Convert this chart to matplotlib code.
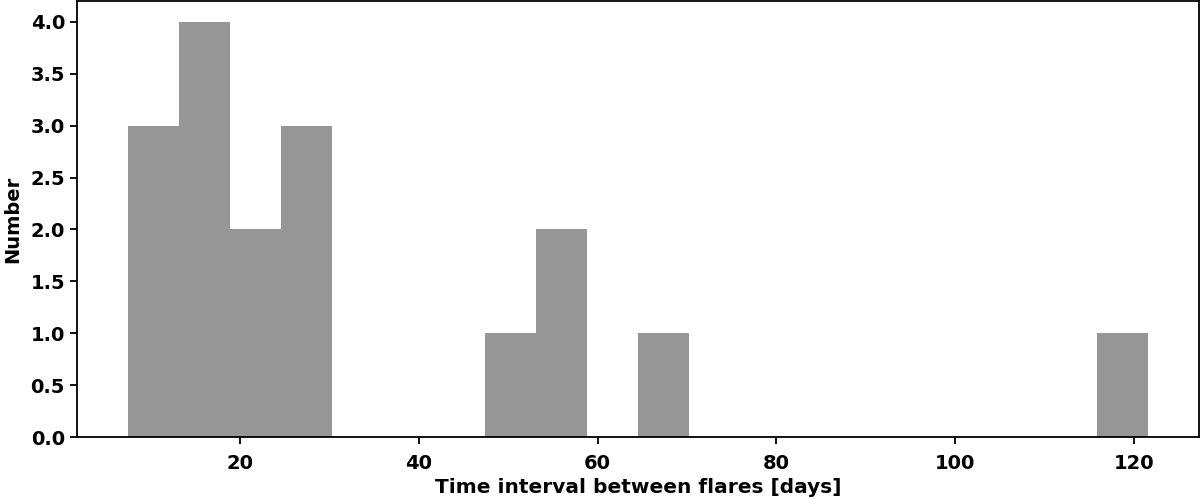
import matplotlib
matplotlib.use("Agg")
import matplotlib.pyplot as plt
import numpy as np

# histogram of time intervals between flares, 20 equal bins
bin_lo, bin_hi = 7.5, 121.5
counts = [3, 4, 2, 3, 0, 0, 0, 1, 2, 0, 1, 0, 0, 0, 0, 0, 0, 0, 0, 1]

edges = np.linspace(bin_lo, bin_hi, len(counts) + 1)
centers = 0.5 * (edges[:-1] + edges[1:])

plt.rcParams["font.family"] = "DejaVu Sans"
plt.rcParams["font.weight"] = "bold"
plt.rcParams["axes.labelweight"] = "bold"

fig = plt.figure(figsize=(12, 4.99), dpi=100)
ax = fig.add_axes([0.064, 0.124, 0.935, 0.874])

ax.hist(centers, bins=edges, weights=counts, color="#969696")

ax.set_xlabel("Time interval between flares [days]", fontsize=14.5, labelpad=4)
ax.set_ylabel("Number", fontsize=14, labelpad=6)
ax.set_yticks(np.arange(0, 4.01, 0.5))
ax.tick_params(labelsize=14, width=1.3, length=5)
ax.tick_params(axis="x", pad=7)
for s in ax.spines.values():
    s.set_linewidth(1.3)

fig.savefig("out.png", dpi=100, facecolor="white")
